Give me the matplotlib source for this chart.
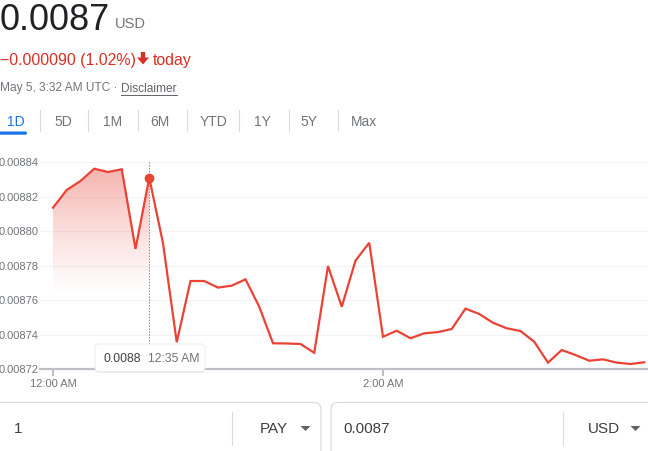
import numpy as np
import matplotlib
matplotlib.use("Agg")
import matplotlib.pyplot as plt
from matplotlib.transforms import Affine2D
from matplotlib.patches import FancyBboxPatch, Polygon, Rectangle

plt.rcParams['font.family'] = ['Liberation Sans', 'DejaVu Sans']

# ---------------- data ----------------
values = [0.0088135, 0.0088238, 0.0088290, 0.0088361, 0.0088342, 0.0088358,
          0.0087896, 0.0088309, 0.0087929, 0.0087355, 0.0087710, 0.0087710,
          0.0087672, 0.0087683, 0.0087720, 0.0087561, 0.0087349, 0.0087348,
          0.0087345, 0.0087294, 0.0087797, 0.0087561, 0.0087828, 0.0087932,
          0.0087387, 0.0087422, 0.0087378, 0.0087407, 0.0087414, 0.0087432,
          0.0087550, 0.0087519, 0.0087468, 0.0087436, 0.0087420, 0.0087358,
          0.0087237, 0.0087310, 0.0087281, 0.0087248, 0.0087256, 0.0087237,
          0.0087229, 0.0087239]
step_minutes = 5
minutes = np.arange(len(values)) * step_minutes
hover_index = 7
y_ticks = [0.00872, 0.00874, 0.00876, 0.00878, 0.00880, 0.00882, 0.00884]
y_tick_labels = ["0.00872", "0.00874", "0.00876", "0.00878", "0.00880", "0.00882", "0.00884"]
x_ticks = [0, 120]
x_tick_labels = ["12:00 AM", "2:00 AM"]
tabs = ["1D", "5D", "1M", "6M", "YTD", "1Y", "5Y", "Max"]

price_text = "0.0087"
currency_text = "USD"
change_text = "\u22120.000090 (1.02%)"
date_text = "May 5, 3:32 AM UTC \u00b7 "
tooltip_value = "0.0088"
tooltip_time = "12:35 AM"

W, H = 648, 451
RED = "#ea4335"
GRAY = "#70757a"
DARK = "#202124"

fig = plt.figure(figsize=(W / 100, H / 100), dpi=100)
fig.patch.set_facecolor("white")
P = Affine2D().scale(1 / W, -1 / H).translate(0, 1) + fig.transFigure  # pixel coords, y down

# ---------------- header ----------------
fig.text(0, 30, price_text, transform=P, fontsize=26, color=DARK, va="baseline")
fig.text(115, 28.5, currency_text, transform=P, fontsize=10.5, color=GRAY, va="baseline")
fig.text(0, 65, change_text, transform=P, fontsize=11.4, color="#d93025", va="baseline")
fig.add_artist(Polygon([[140.8, 52], [145.2, 52], [145.2, 57.5], [149, 57.5], [143, 64.5], [137, 57.5], [140.8, 57.5]],
                       closed=True, transform=P, facecolor="#d93025", edgecolor="none"))
fig.text(152.5, 65, "today", transform=P, fontsize=11.4, color="#d93025", va="baseline")
fig.text(0, 91.5, date_text, transform=P, fontsize=8.6, color=GRAY, va="baseline")
fig.text(121, 91.5, "Disclaimer", transform=P, fontsize=8.6, color="#5f6368", va="baseline")
fig.add_artist(plt.Line2D([121, 176.5], [94.5, 94.5], transform=P, color="#5f6368", lw=0.7))

# ---------------- tabs ----------------
tab_centers = [16, 63.5, 112.5, 159.5, 213.5, 262, 309, 363.5]
dividers = [40, 88, 138, 187, 239, 289, 338]
for lab, cx in zip(tabs, tab_centers):
    col = "#1a73e8" if lab == "1D" else GRAY
    fig.text(cx, 125.7, lab, transform=P, fontsize=10, color=col, ha="center", va="baseline")
for dx in dividers:
    fig.add_artist(plt.Line2D([dx, dx], [110, 131], transform=P, color="#dadce0", lw=0.8))
fig.add_artist(FancyBboxPatch((-3, 131.5), 30, 3.2, boxstyle="round,pad=0,rounding_size=1.5",
                              transform=P, facecolor="#1a73e8", edgecolor="none"))

# ---------------- chart ----------------
ax_left, ax_right, ax_top, ax_bottom = 40, 648, 162, 369
ax = fig.add_axes([ax_left / W, 1 - ax_bottom / H, (ax_right - ax_left) / W, (ax_bottom - ax_top) / H])
px_per_min = 2.75
x0_px = 53
ax.set_xlim(-(x0_px - ax_left) / px_per_min, (ax_right - x0_px) / px_per_min)
ax.set_ylim(y_ticks[0], y_ticks[-1])
for s in ["top", "right", "left"]:
    ax.spines[s].set_visible(False)
ax.spines["bottom"].set_color("#bdc1c6")
ax.spines["bottom"].set_linewidth(1.6)
ax.spines["bottom"].set_zorder(5)
ax.set_yticks(y_ticks)
ax.set_yticklabels(y_tick_labels)
ax.tick_params(axis="y", length=0, pad=1, labelsize=8, labelcolor=GRAY)
ax.set_xticks(x_ticks)
ax.set_xticklabels(x_tick_labels)
ax.tick_params(axis="x", length=5, width=1.5, color="#bdc1c6", pad=2, labelsize=8, labelcolor=GRAY)
for yv in y_ticks[1:]:
    ax.axhline(yv, color="#f1f3f4", lw=0.8, zorder=0)

# gradient fill up to hover point
xs = minutes[:hover_index + 1]
ys = np.array(values[:hover_index + 1])
poly_pts = np.column_stack([np.r_[xs, xs[-1], xs[0]], np.r_[ys, y_ticks[0], y_ticks[0]]])
clip_poly = Polygon(poly_pts, closed=True, facecolor="none", edgecolor="none")
ax.add_patch(clip_poly)
grad = np.zeros((200, 2, 4))
rgb = matplotlib.colors.to_rgb(RED)
grad[..., 0], grad[..., 1], grad[..., 2] = rgb
yy = np.linspace(y_ticks[-1], y_ticks[0], 200)
alpha = np.clip((yy - 0.008762) / (0.00884 - 0.008762), 0, 1) ** 1.2 * 0.42
grad[..., 3] = alpha[:, None]
im = ax.imshow(grad, extent=(xs[0], xs[-1], y_ticks[0], y_ticks[-1]), aspect="auto",
               interpolation="bilinear", zorder=1)
im.set_clip_path(clip_poly)

ax.plot(minutes, values, color=RED, lw=1.6, zorder=3, clip_on=False, solid_joinstyle="miter")

# hover marker & dashed line
tip_top_px = 344
y_tip = y_ticks[-1] - (tip_top_px - ax_top) / (ax_bottom - ax_top) * (y_ticks[-1] - y_ticks[0])
ax.vlines(minutes[hover_index], y_tip, y_ticks[-1], colors="#80868b", linestyles=(0, (1.5, 1.5)),
          lw=0.7, zorder=2)
ax.plot([minutes[hover_index]], [values[hover_index]], "o", color=RED, ms=6, zorder=4)

# tooltip
fig.add_artist(FancyBboxPatch((95, 345), 110, 28, boxstyle="round,pad=0,rounding_size=4",
                              transform=P, facecolor="#000000", alpha=0.08, edgecolor="none", zorder=9))
fig.add_artist(FancyBboxPatch((95, 344), 110, 27.5, boxstyle="round,pad=0,rounding_size=4",
                              transform=P, facecolor="white", edgecolor="#e8eaed", lw=0.6, zorder=10))
fig.text(103, 361.5, tooltip_value, transform=P, fontsize=8.8, color="#3c4043", va="baseline", zorder=11)
fig.text(148, 361.5, tooltip_time, transform=P, fontsize=8.8, color=GRAY, va="baseline", zorder=11)

# ---------------- converter boxes ----------------
for (bx0, bx1) in [(-6, 321), (331, 656)]:
    fig.add_artist(FancyBboxPatch((bx0, 402.5), bx1 - bx0, 70, boxstyle="round,pad=0,rounding_size=7",
                                  transform=P, facecolor="white", edgecolor="#dadce0", lw=0.9))
for dx in [232, 563]:
    fig.add_artist(plt.Line2D([dx, dx], [412, 445], transform=P, color="#dadce0", lw=0.8))
fig.text(14, 433, "1", transform=P, fontsize=11, color="#3c4043", va="baseline")
fig.text(260, 433, "PAY", transform=P, fontsize=11, color="#3c4043", va="baseline")
fig.text(343, 433, "0.0087", transform=P, fontsize=11, color="#3c4043", va="baseline")
fig.text(588, 433, "USD", transform=P, fontsize=11, color="#3c4043", va="baseline")
for ax_c in [305.5, 635.5]:
    fig.add_artist(Polygon([[ax_c - 5, 426], [ax_c + 5, 426], [ax_c, 431]], closed=True, transform=P,
                           facecolor="#5f6368", edgecolor="none"))

fig.savefig("out.png", dpi=100, facecolor="white")
